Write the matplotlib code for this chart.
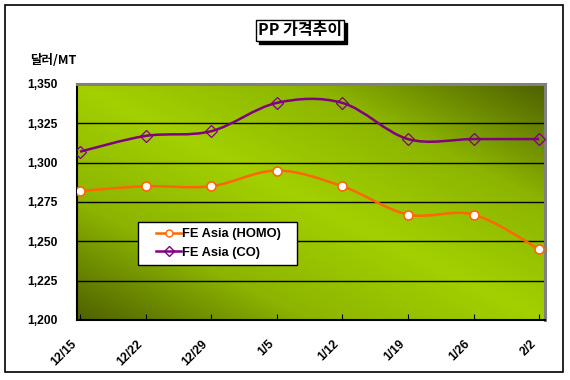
import numpy as np
import matplotlib
matplotlib.use("Agg")
import matplotlib.pyplot as plt
from matplotlib.path import Path
from matplotlib.patches import PathPatch, Rectangle
from matplotlib.colors import LinearSegmentedColormap
import matplotlib.transforms as mtransforms

plt.rcParams['font.family'] = ['Liberation Sans', 'Noto Sans CJK KR', 'DejaVu Sans']
plt.rcParams['font.weight'] = 'bold'

# ---- data ----
dates = ["12/15", "12/22", "12/29", "1/5", "1/12", "1/19", "1/26", "2/2"]
homo = [1282, 1285, 1285, 1295, 1285, 1267, 1267, 1245]
co = [1307, 1317, 1320, 1338, 1338, 1315, 1315, 1315]
yticks = [1200, 1225, 1250, 1275, 1300, 1325, 1350]


def smooth_path(xs, ys):
    # excel-like smoothed line, drawn as bezier curves through the points
    pts = np.column_stack([xs, ys]).astype(float)
    ext = np.vstack([pts[0], pts, pts[-1]])
    verts = [pts[0]]
    codes = [Path.MOVETO]
    for i in range(len(pts) - 1):
        p0, p1, p2, p3 = ext[i], ext[i + 1], ext[i + 2], ext[i + 3]
        verts += [p1 + (p2 - p0) / 6, p2 - (p3 - p1) / 6, p2]
        codes += [Path.CURVE4] * 3
    return Path(verts, codes)


fig = plt.figure(figsize=(5.7, 3.8), dpi=100)
fig.patch.set_facecolor("white")

# outer frame
fig.patches.append(Rectangle((5 / 570, 8 / 380), 558 / 570, 367 / 380,
                             transform=fig.transFigure, fill=False,
                             edgecolor="black", linewidth=1.2))

ax = fig.add_axes([77 / 570, 60 / 380, 468 / 570, 236 / 380])

# gradient background (bright along the top-left / bottom-right diagonal)
u, v = np.meshgrid(np.linspace(0, 1, 300), np.linspace(1, 0, 200))
d = np.abs(u + v - 1)
cmap = LinearSegmentedColormap.from_list("g", ["#a2d000", "#8cb400", "#4e6100"])
ax.imshow(d, cmap=cmap, vmin=0, vmax=1, extent=[0, 1, 0, 1],
          transform=ax.transAxes, aspect="auto", zorder=0)

x = np.arange(len(dates))

for yv in yticks[1:-1]:
    ax.axhline(yv, color="black", linewidth=1, zorder=1)

ax.add_patch(PathPatch(smooth_path(x, homo), fill=False, edgecolor="#ff6600",
                       linewidth=1.8, zorder=2))
ax.add_patch(PathPatch(smooth_path(x, co), fill=False, edgecolor="#800080",
                       linewidth=1.8, zorder=2))
ax.plot(x, homo, linestyle="none", marker="o", markersize=6.5,
        markerfacecolor="white", markeredgecolor="#ff6600", markeredgewidth=1.2, zorder=3)
ax.plot(x, co, linestyle="none", marker="D", markersize=6, fillstyle="none",
        markeredgecolor="#800080", markeredgewidth=0.9, zorder=3)

# legend: white box drawn separately, entries on top
ax.add_patch(Rectangle((0.130, 0.233), 0.340, 0.182, transform=ax.transAxes,
                       facecolor="white", edgecolor="black", linewidth=1, zorder=4))
h1, = ax.plot([], [], color="#ff6600", linewidth=1.8, marker="o", markersize=5,
              markerfacecolor="white", markeredgecolor="#ff6600")
h2, = ax.plot([], [], color="#800080", linewidth=1.8, marker="D", markersize=5,
              fillstyle="none", markeredgecolor="#800080")
leg = ax.legend([h1, h2], ["FE Asia (HOMO)", "FE Asia (CO)"],
                loc="center left", bbox_to_anchor=(0.168, 0.324),
                frameon=False, fontsize=9.3, handlelength=2.0, handletextpad=0.05,
                borderpad=0, labelspacing=0.5, borderaxespad=0)
leg.set_zorder(5)

ax.set_xlim(-0.046, 7.09)
ax.set_ylim(1200, 1350)
ax.set_yticks(yticks)
ax.set_yticklabels([f"{t:,}" for t in yticks], fontsize=8.7)
ax.set_xticks(x)
ax.set_xticklabels(dates, rotation=45, ha="right", va="center",
                   rotation_mode="anchor", fontsize=8.8)
ax.tick_params(axis="y", length=0, pad=14)
ax.tick_params(axis="x", direction="in", length=4, pad=16)
shift = mtransforms.ScaledTranslation(-5 / 100, 0, fig.dpi_scale_trans)
for lab in ax.get_xticklabels():
    lab.set_transform(lab.get_transform() + shift)

for s in ["left", "bottom"]:
    ax.spines[s].set_color("black")
    ax.spines[s].set_linewidth(1.5)
for s in ["top", "right"]:
    ax.spines[s].set_color("#808080")
    ax.spines[s].set_linewidth(2.2)

# title box with a drop shadow
tx, ty = 300 / 570, 1 - 30.5 / 380
title = fig.text(tx, ty, "PP 가격추이", ha="center", va="center",
                 fontsize=11.5, family=["Noto Sans CJK KR"], zorder=3,
                 bbox=dict(boxstyle="square,pad=0.15", facecolor="white",
                           edgecolor="black", linewidth=1))
fig.canvas.draw()
bb = title.get_bbox_patch().get_window_extent().transformed(fig.transFigure.inverted())
fig.patches.append(Rectangle((bb.x0 + 3 / 570, bb.y0 - 3 / 380), bb.width, bb.height,
                             transform=fig.transFigure, facecolor="black",
                             edgecolor="black", zorder=2))

fig.text(30 / 570, 1 - 60 / 380, "달러/MT", ha="left", va="center", fontsize=9,
         family=["Noto Sans CJK KR", "Liberation Sans"])

fig.savefig("out.png", dpi=100)
